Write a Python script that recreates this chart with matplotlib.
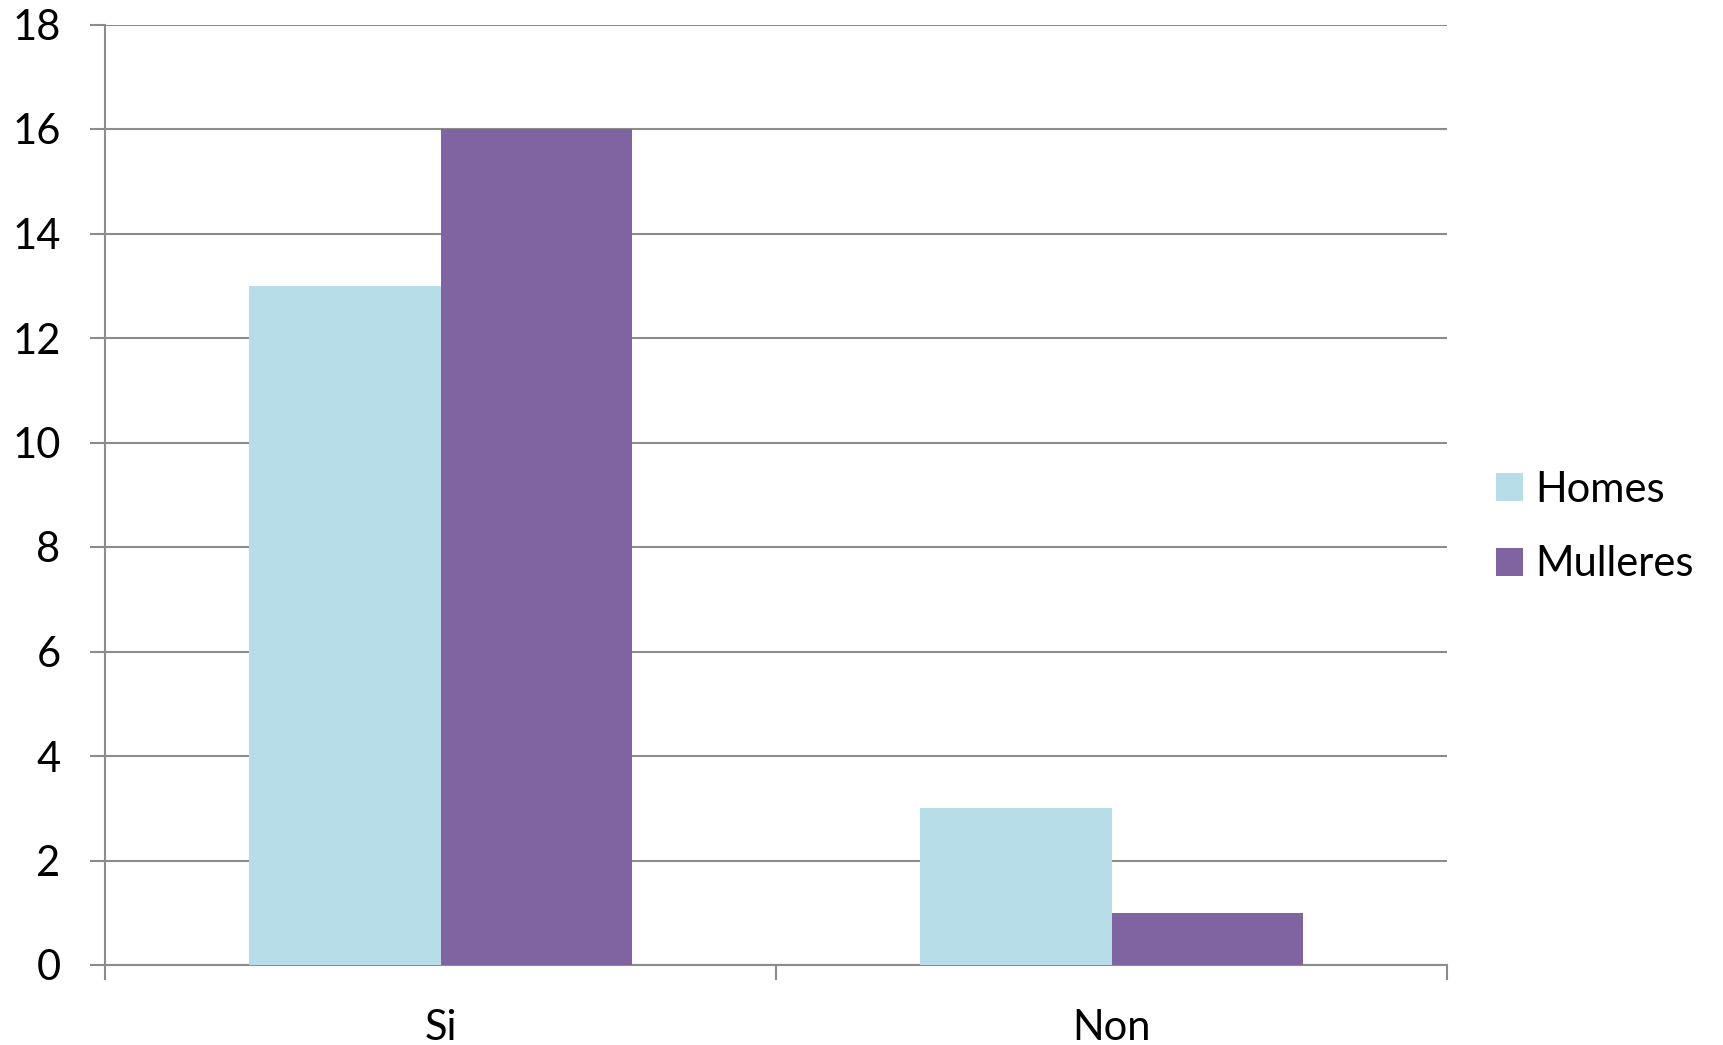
import matplotlib
matplotlib.use("Agg")
import matplotlib.pyplot as plt
import numpy as np

categories = ["Si", "Non"]
homes = [13, 3]
mulleres = [16, 1]
series_names = ["Homes", "Mulleres"]
yticks = [0, 2, 4, 6, 8, 10, 12, 14, 16, 18]

plt.rcParams['font.family'] = ['Lato', 'DejaVu Sans']

fig = plt.figure(figsize=(17.23, 10.45), dpi=100)
ax = fig.add_axes([105 / 1723, 1 - 965 / 1045, (1447 - 105) / 1723, (965 - 24.5) / 1045])

x = np.arange(len(categories))
w = 0.286
ax.bar(x - w / 2, homes, w, color='#B7DEE8', label=series_names[0], zorder=3)
ax.bar(x + w / 2, mulleres, w, color='#8064A2', label=series_names[1], zorder=3)

ax.set_xlim(-0.5, len(categories) - 0.5)
ax.set_ylim(0, 18)
ax.set_yticks(yticks)
ax.yaxis.grid(True, color='#8c8c8c', linewidth=1.5, zorder=0)

# category boundary ticks on x
ax.set_xticks(np.arange(len(categories) + 1) - 0.5)
ax.set_xticklabels([])
ax.tick_params(axis='x', direction='out', length=10.5, width=1.5, color='#8c8c8c')
ax.set_xticks(x, minor=True)
ax.set_xticklabels(categories, minor=True)
ax.tick_params(axis='x', which='minor', length=0, pad=32, labelsize=30)
ax.tick_params(axis='y', direction='out', length=11, width=1.5, color='#8c8c8c',
               pad=21, labelsize=30)

for s in ['top', 'right']:
    ax.spines[s].set_visible(False)
for s in ['left', 'bottom']:
    ax.spines[s].set_color('#8c8c8c')
    ax.spines[s].set_linewidth(1.5)

fig.legend(loc='center left', bbox_to_anchor=(1496 / 1723, 1 - 527 / 1045),
           frameon=False, fontsize=30, handlelength=0.65, handleheight=0.65,
           handletextpad=0.3, labelspacing=0.88, borderpad=0, borderaxespad=0)

fig.savefig('out.png', dpi=100)
